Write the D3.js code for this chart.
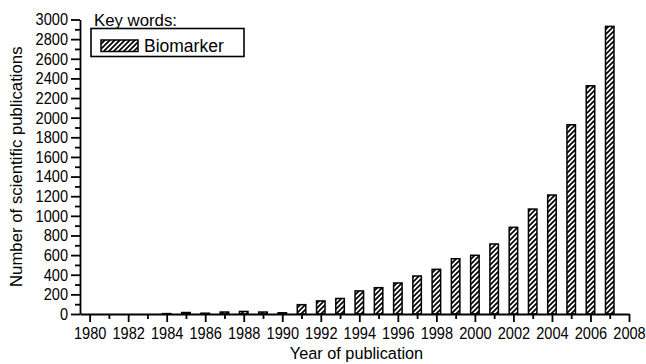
<!DOCTYPE html>
<html>
<head>
<meta charset="utf-8">
<script src="https://cdn.jsdelivr.net/npm/d3@7"></script>
<style>
  html, body { margin: 0; padding: 0; background: #fff; }
  svg { display: block; }
  text { font-family: "Liberation Sans", Arial, Helvetica, sans-serif; fill: #000; }
</style>
</head>
<body>
<svg id="chart" width="646" height="364"></svg>
<script>
// Publications per year for the key word "Biomarker"
const years = [1980, 1981, 1982, 1983, 1984, 1985, 1986, 1987, 1988, 1989,
               1990, 1991, 1992, 1993, 1994, 1995, 1996, 1997, 1998, 1999,
               2000, 2001, 2002, 2003, 2004, 2005, 2006, 2007];
const counts = [0, 0, 0, 0, 4, 15, 8, 20, 26, 20,
                12, 95, 133, 158, 235, 268, 316, 387, 455, 563,
                598, 713, 883, 1069, 1212, 1928, 2325, 2930];

const xMajorTicks = d3.range(1980, 2009, 2);
const xMinorTicks = d3.range(1981, 2008, 2);
const yMajorTicks = d3.range(0, 3001, 200);
const yMinorTicks = d3.range(100, 3000, 200);

const seriesName = "Biomarker";
const legendTitle = "Key words:";
const xTitle = "Year of publication";
const yTitle = "Number of scientific publications";

const svg = d3.select("#chart");

const plotLeft = 80, plotRight = 629, plotTop = 19.5, plotBottom = 314;

const x = d3.scaleLinear().domain([1979.5, 2008]).range([plotLeft, plotRight]);
const y = d3.scaleLinear().domain([0, 3000]).range([plotBottom, plotTop]);

// diagonal hatch fill
const defs = svg.append("defs");
const pat = defs.append("pattern")
  .attr("id", "hatch")
  .attr("patternUnits", "userSpaceOnUse")
  .attr("width", 5).attr("height", 5);
pat.append("rect").attr("width", 5).attr("height", 5).attr("fill", "#fff");
pat.append("path")
  .attr("d", "M-1,6 L6,-1 M-1,1 L1,-1 M4,6 L6,4")
  .attr("stroke", "#000").attr("stroke-width", 1.7);

// bars
const barW = 8.5;
svg.append("g").selectAll("rect")
  .data(years.map((yr, i) => ({ yr, v: counts[i] })))
  .join("rect")
  .attr("x", d => x(d.yr) - barW / 2)
  .attr("y", d => y(d.v))
  .attr("width", barW)
  .attr("height", d => y(0) - y(d.v))
  .attr("fill", "url(#hatch)")
  .attr("stroke", "#000")
  .attr("stroke-width", 1.5);

// x axis
const gx = svg.append("g").attr("transform", `translate(0,${plotBottom})`)
  .call(d3.axisBottom(x).tickValues(xMajorTicks).tickFormat(d3.format("d"))
    .tickSize(8).tickSizeOuter(0).tickPadding(5));
svg.append("g").attr("transform", `translate(0,${plotBottom})`)
  .call(d3.axisBottom(x).tickValues(xMinorTicks).tickFormat("").tickSize(5).tickSizeOuter(0))
  .select(".domain").remove();

// y axis
const gy = svg.append("g").attr("transform", `translate(${plotLeft},0)`)
  .call(d3.axisLeft(y).tickValues(yMajorTicks).tickFormat(d3.format("d"))
    .tickSize(9).tickSizeOuter(0).tickPadding(3));
svg.append("g").attr("transform", `translate(${plotLeft},0)`)
  .call(d3.axisLeft(y).tickValues(yMinorTicks).tickFormat("").tickSize(5).tickSizeOuter(0))
  .select(".domain").remove();

svg.selectAll(".domain, .tick line").attr("stroke", "#000").attr("stroke-width", 1.8);

// tick labels: slightly tall, narrow digits
const stretch = 1.15;
svg.selectAll(".tick text").each(function () {
  const t = d3.select(this);
  const ty = +t.attr("y") || 0;
  t.attr("font-size", 14.6)
   .attr("transform", `translate(0,${ty}) scale(1,${stretch}) translate(0,${-ty})`);
});

// axis titles
svg.append("text")
  .attr("x", (plotLeft + plotRight) / 2 + 2).attr("y", 359)
  .attr("text-anchor", "middle").attr("font-size", 16.3)
  .text(xTitle);
svg.append("text")
  .attr("transform", `translate(22,${(plotTop + plotBottom) / 2}) rotate(-90)`)
  .attr("text-anchor", "middle").attr("font-size", 16.8)
  .text(yTitle);

// legend
svg.append("text").attr("x", 94).attr("y", 26).attr("font-size", 16.8).text(legendTitle);
svg.append("rect").attr("x", 91).attr("y", 28.5).attr("width", 153).attr("height", 28)
  .attr("fill", "#fff").attr("stroke", "#000").attr("stroke-width", 1.6);
svg.append("rect").attr("x", 101).attr("y", 40).attr("width", 37).attr("height", 11.5)
  .attr("fill", "url(#hatch)").attr("stroke", "#000").attr("stroke-width", 1.5);
svg.append("text").attr("x", 144).attr("y", 51.5).attr("font-size", 17.5).text(seriesName);
</script>
</body>
</html>
